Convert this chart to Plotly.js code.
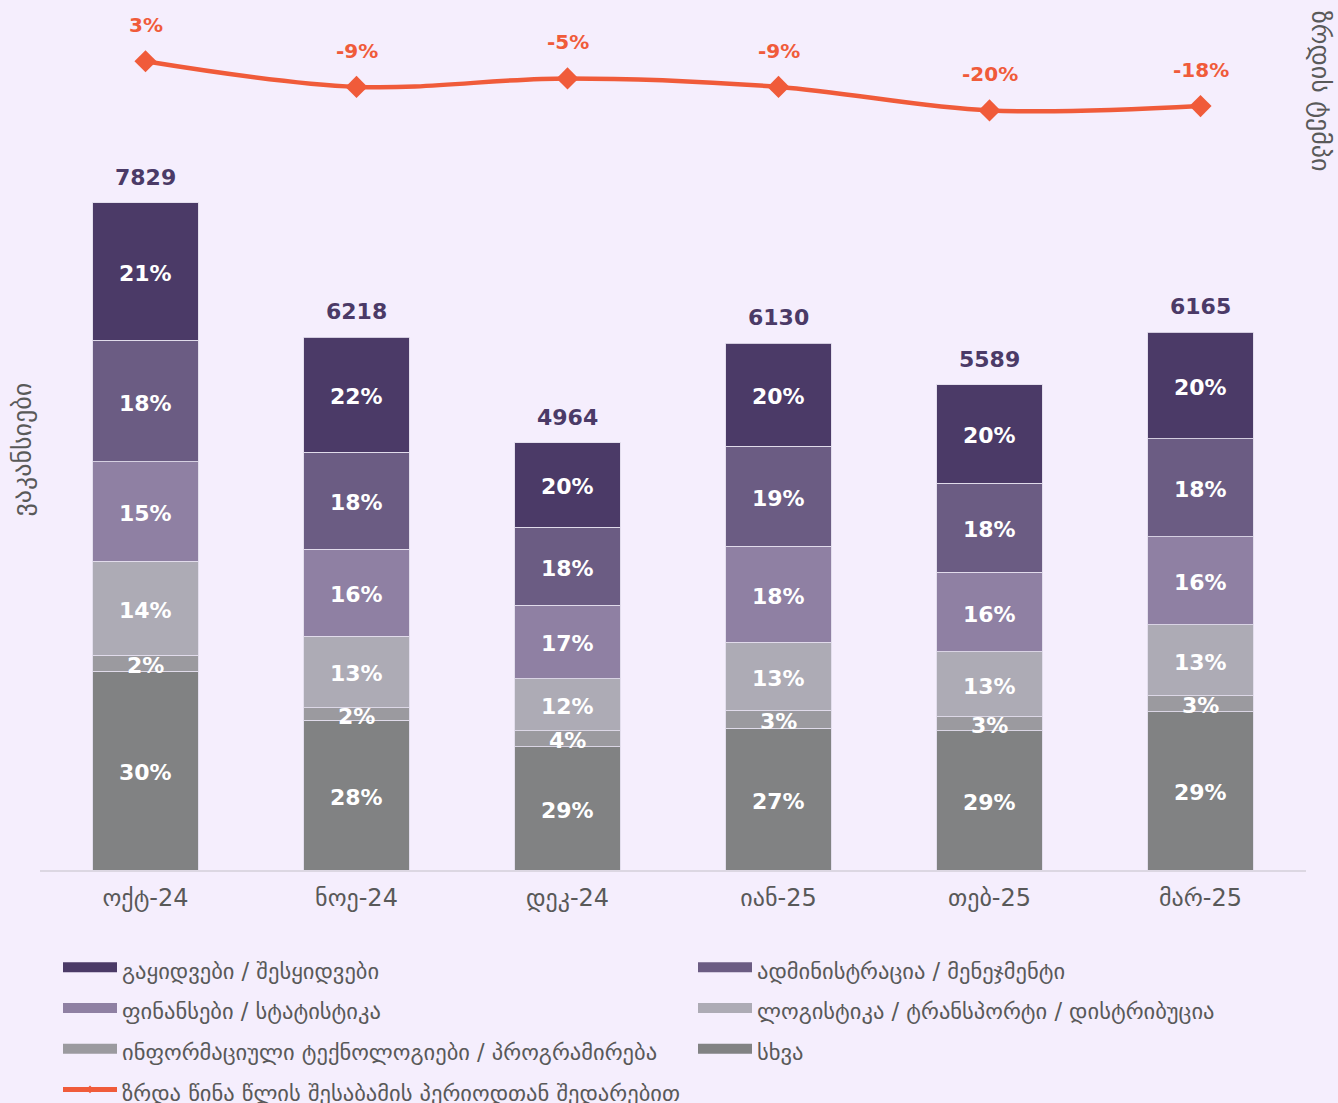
<!DOCTYPE html>
<html>
<head>
<meta charset="utf-8">
<script src="https://cdn.plot.ly/plotly-3.0.1.min.js"></script>
<style>html,body{margin:0;padding:0;background:#f5eefd;}</style>
</head>
<body>
<div id="chart" style="width:1338px;height:1103px;"></div>
<script>
// ---- data ----
var categories = ['ოქტ-24', 'ნოე-24', 'დეკ-24', 'იან-25', 'თებ-25', 'მარ-25'];
var totals = [7829, 6218, 4964, 6130, 5589, 6165];   // total labels shown above bars
var growth = [3, -9, -5, -9, -20, -18];               // % vs same period previous year

// vacancies by category (estimated from bar segments), stacked bottom -> top
var other     = [2333, 1756, 1444, 1663, 1635, 1856];
var itProg    = [188, 150, 191, 210, 165, 189];
var logistics = [1104, 838, 612, 798, 763, 833];
var finance   = [1167, 1019, 863, 1131, 929, 1035];
var admin     = [1425, 1138, 913, 1169, 1048, 1149];
var sales     = [1613, 1350, 993, 1212, 1156, 1250];

var seriesNames = {
  sales: 'გაყიდვები / შესყიდვები',
  admin: 'ადმინისტრაცია / მენეჯმენტი',
  finance: 'ფინანსები / სტატისტიკა',
  logistics: 'ლოგისტიკა / ტრანსპორტი / დისტრიბუცია',
  it: 'ინფორმაციული ტექნოლოგიები / პროგრამირება',
  other: 'სხვა'
};
var lineName = 'ზრდა წინა წლის შესაბამის პერიოდთან შედარებით';
var yTitle = 'ვაკანსიები';
var y2Title = 'ზრდის ტემპი';

// ---- styles ----
var FONT = 'DejaVu Sans';
var colors = {
  sales: '#4b3a67', admin: '#6b5c83', finance: '#8f80a3',
  logistics: '#adabb5', it: '#9b9a9f', other: '#818283'
};
var lineColor = '#f05b3a';
var bg = '#f5eefd';
var LEG_TEXT = 22.5;

var stack = [
  {key: 'other', vals: other},
  {key: 'it', vals: itProg},
  {key: 'logistics', vals: logistics},
  {key: 'finance', vals: finance},
  {key: 'admin', vals: admin},
  {key: 'sales', vals: sales}
];

var sums = categories.map(function(c, i){
  return stack.reduce(function(a, s){ return a + s.vals[i]; }, 0);
});

var traces = [];
var annotations = [];
var base = categories.map(function(){ return 0; });
stack.forEach(function(s){
  traces.push({
    type: 'bar', x: categories, y: s.vals, name: seriesNames[s.key],
    marker: {color: colors[s.key], line: {color: 'rgba(225,220,235,0.9)', width: 1}},
    showlegend: false, hoverinfo: 'skip'
  });
  s.vals.forEach(function(v, i){
    annotations.push({
      x: categories[i], y: base[i] + v / 2, xref: 'x', yref: 'y',
      text: Math.round(v / sums[i] * 100) + '%', showarrow: false,
      xanchor: 'center', yanchor: 'middle', yshift: -2,
      font: {family: FONT, size: 22, color: '#ffffff', weight: 700}
    });
    base[i] += v;
  });
});

// growth line
traces.push({
  type: 'scatter', mode: 'lines+markers', x: categories, y: growth, yaxis: 'y2',
  name: lineName,
  line: {color: lineColor, width: 4.5, shape: 'spline', smoothing: 1},
  marker: {symbol: 'diamond', size: 17, color: lineColor},
  showlegend: false, hoverinfo: 'skip'
});

// legend-only entries (wide swatches)
['sales', 'admin', 'finance', 'logistics', 'it', 'other'].forEach(function(k){
  traces.push({
    type: 'scatter', mode: 'lines', x: [null], y: [null],
    name: '<span style="font-size:' + LEG_TEXT + 'px">' + seriesNames[k] + '</span>',
    line: {color: colors[k], width: 11}, showlegend: true, hoverinfo: 'skip'
  });
});
traces.push({
  type: 'scatter', mode: 'lines+markers', x: [null], y: [null], yaxis: 'y2',
  name: '<span style="font-size:' + LEG_TEXT + 'px">' + lineName + '</span>',
  line: {color: lineColor, width: 5}, marker: {symbol: 'diamond', size: 6, color: lineColor},
  showlegend: true, hoverinfo: 'skip'
});

totals.forEach(function(t, i){
  annotations.push({
    x: categories[i], y: sums[i], xref: 'x', yref: 'y', text: String(t),
    showarrow: false, yanchor: 'bottom', yshift: 11,
    font: {family: FONT, size: 22, color: '#4b3a67', weight: 700}
  });
});
growth.forEach(function(g, i){
  annotations.push({
    x: categories[i], y: g, xref: 'x', yref: 'y2', text: g + '%',
    showarrow: false, yanchor: 'bottom', yshift: 22,
    font: {family: FONT, size: 20, color: lineColor, weight: 700}
  });
});
annotations.push({
  xref: 'paper', yref: 'paper', x: -0.0145, y: 0.493, xanchor: 'center', yanchor: 'middle',
  text: yTitle, textangle: -90, showarrow: false,
  font: {family: FONT, size: 26, color: '#595959'}
});
annotations.push({
  xref: 'paper', yref: 'paper', x: 1.0115, y: 0.914, xanchor: 'center', yanchor: 'middle',
  text: y2Title, textangle: 90, showarrow: false,
  font: {family: FONT, size: 26, color: '#595959'}
});

var layout = {
  width: 1338, height: 1103,
  paper_bgcolor: bg, plot_bgcolor: bg,
  margin: {l: 40, r: 32, t: 18, b: 233},
  barmode: 'stack', bargap: 0.5,
  font: {family: FONT, color: '#595959'},
  xaxis: {
    type: 'category', showline: true, linecolor: '#dcd7e2', linewidth: 2,
    ticks: '', showgrid: false, zeroline: false, ticklabelstandoff: 5,
    tickfont: {family: FONT, size: 24, color: '#595959'}
  },
  yaxis: {range: [0, 10000], showticklabels: false, showgrid: false, zeroline: false, showline: false},
  yaxis2: {overlaying: 'y', side: 'right', range: [-376, 23.3], showticklabels: false, showgrid: false, zeroline: false, showline: false},
  showlegend: true,
  legend: {
    orientation: 'h', xref: 'container', yref: 'container',
    x: 58 / 1338, y: 1 - 942 / 1103, xanchor: 'left', yanchor: 'top',
    entrywidth: 566, entrywidthmode: 'pixels', itemwidth: 54,
    font: {family: FONT, size: 29, color: '#595959'},
    bgcolor: 'rgba(0,0,0,0)', traceorder: 'normal'
  },
  annotations: annotations
};

Plotly.newPlot('chart', traces, layout, {displayModeBar: false, staticPlot: true});
</script>
</body>
</html>
